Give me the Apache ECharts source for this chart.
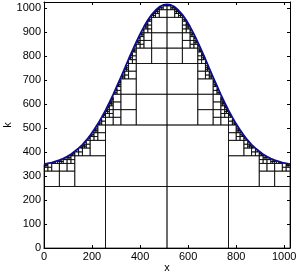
<!DOCTYPE html>
<html><head><meta charset="utf-8">
<script src="https://cdn.jsdelivr.net/npm/echarts@6/dist/echarts.min.js"></script>
<style>html,body{margin:0;padding:0;background:#fff}#c{width:299px;height:277px}</style>
</head><body><div id="c"></div>
<script>
// Curve: x positions and k values
var curveX = [0,16,32,48,64,80,96,112,128,144,160,176,192,208,224,240,256,272,288,304,320,336,352,368,384,400,416,432,448,464,480,496,512,
  528,544,560,576,592,608,624,640,656,672,688,704,720,736,752,768,784,800,816,832,848,864,880,896,912,928,944,960,976,992,1008,1024];
var curveK = [350,353,356,361,366,373,381,391,403,416,431,449,469,492,517,545,574,606,640,676,712,749,787,823,858,891,922,949,972,990,1004,1012,1015,
  1012,1004,990,972,949,922,891,858,823,787,749,712,676,640,606,574,545,517,492,469,449,431,416,403,391,381,373,366,361,356,353,350];
var xTicks = [0,200,400,600,800,1000];
var kTicks = [0,100,200,300,400,500,600,700,800,900,1000];
var domainSize = 1024;   // dyadic square side
var minCell = 4;         // finest subdivision

function interp(x){
  for (var i=0;i<curveX.length-1;i++){
    if (x>=curveX[i] && x<=curveX[i+1]){
      var t=(x-curveX[i])/(curveX[i+1]-curveX[i]);
      return curveK[i]+t*(curveK[i+1]-curveK[i]);
    }
  }
  return curveK[curveK.length-1];
}
function rangeMinMax(a,b){
  var vals=[interp(a),interp(b)];
  for (var i=0;i<curveX.length;i++) if (curveX[i]>a && curveX[i]<b) vals.push(curveK[i]);
  return [Math.min.apply(null,vals),Math.max.apply(null,vals)];
}
var cells=[];
function split(x0,y0,s){
  var mm=rangeMinMax(x0,x0+s);
  if (y0+s<=mm[0]) { cells.push([x0,y0,x0+s,y0+s]); return; }
  if (y0>=mm[1]) return;
  if (s<=minCell) return;
  var h=s/2;
  split(x0,y0,h); split(x0+h,y0,h); split(x0,y0+h,h); split(x0+h,y0+h,h);
}
split(0,0,domainSize);

var curveData = curveX.map(function(x,i){return [x,curveK[i]];});
var font = {fontFamily:'Liberation Sans, Arial, sans-serif', fontSize:11, color:'#000'};
var chart = echarts.init(document.getElementById('c'),null,{renderer:'canvas'});
function axisCommon(extra){
  return Object.assign({
    type:'value', min:0, max:1024,
    axisLine:{show:true,onZero:false,lineStyle:{color:'#000',width:1}},
    axisTick:{show:true,inside:true,length:3,lineStyle:{color:'#000'}},
    splitLine:{show:false}
  },extra);
}
chart.setOption({
  animation:false,
  grid:{left:44,top:2,width:246,height:246,containLabel:false,outerBoundsMode:'none'},
  xAxis:[
    axisCommon({position:'bottom',interval:200,name:'x',nameLocation:'middle',nameGap:14,nameMoveOverlap:false,nameTextStyle:font,
      axisLabel:Object.assign({margin:3,showMaxLabel:false,formatter:function(v){return xTicks.indexOf(v)>=0?String(v):'';}},font)}),
    axisCommon({position:'top',interval:200,axisLabel:{show:false}})
  ],
  yAxis:[
    axisCommon({position:'left',interval:100,name:'k',nameLocation:'middle',nameGap:31,nameMoveOverlap:false,nameRotate:90,nameTextStyle:font,
      axisLabel:Object.assign({margin:3,showMaxLabel:false,formatter:function(v){return kTicks.indexOf(v)>=0?String(v):'';}},font)}),
    axisCommon({position:'right',interval:100,axisLabel:{show:false}})
  ],
  series:[
    {type:'custom',xAxisIndex:0,yAxisIndex:0,data:cells,silent:true,z:2,
      renderItem:function(params,api){
        var p0=api.coord([api.value(0),api.value(3)]);
        var p1=api.coord([api.value(2),api.value(1)]);
        return {type:'rect',shape:{x:p0[0],y:p0[1],width:p1[0]-p0[0],height:p1[1]-p0[1]},
          style:{fill:null,stroke:'#000',lineWidth:0.7}};
      }},
    {type:'line',xAxisIndex:0,yAxisIndex:0,data:curveData,showSymbol:false,z:5,
      lineStyle:{color:'#0a0a9a',width:1.6}}
  ]
});
</script></body></html>
